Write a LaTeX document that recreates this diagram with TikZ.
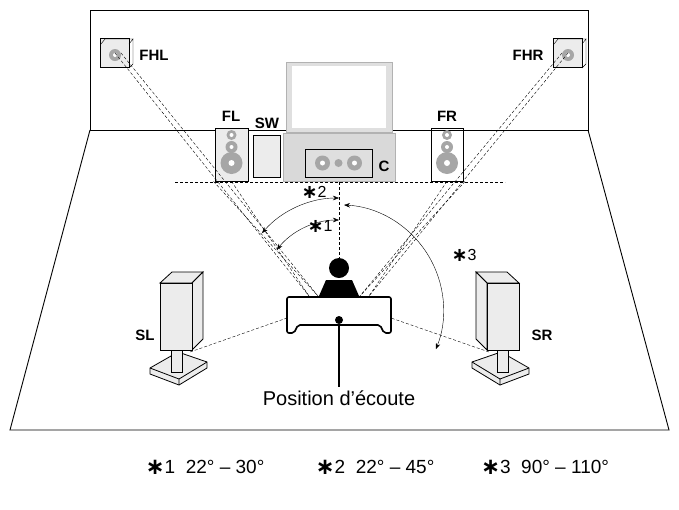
\documentclass[tikz,border=0pt]{standalone}
\usepackage{fontspec}
\setmainfont{Liberation Sans}
\newfontfamily\dvfont{DejaVu Sans}
\newcommand{\myast}{\raisebox{-0.05em}{\scalebox{1.2}{\dvfont\bfseries ∗}}}
\usetikzlibrary{arrows.meta}
\begin{document}
\begin{tikzpicture}[x=1pt,y=-1pt,
  lbl/.style={font=\bfseries\fontsize{15}{16}\selectfont},
  dsh/.style={dashed,thin,dash pattern=on 3pt off 2pt},
  gspk/.style={draw=black,fill=gray!15,line width=0.8pt},
  arc/.style={thin,{Stealth[length=6pt]}-{Stealth[length=6pt]}},
  note/.style={font=\fontsize{16}{18}\selectfont}]
\useasboundingbox (0,0) rectangle (679,509);
% room
\draw[line width=0.9pt] (90,10) rectangle (588,130);
\draw[line width=0.9pt] (90,130) -- (10,430) -- (669,430) -- (588,130);
% TV and stand
\draw[draw=gray!60,fill=gray!25,line width=0.8pt] (286,62) rectangle (392,132);
\fill[white] (292,66) rectangle (386,128);
\draw[gray!60,fill=gray!30,line width=0.8pt] (283,133) rectangle (395,181);
\node[draw=black,fill=gray!25,line width=0.9pt,minimum width=67pt,minimum height=28pt,inner sep=0pt] (C) at (338.5,163) {};
\foreach \dx in {-16,16}{\fill[gray!70] (338.5+\dx,163) circle (7.5); \fill[white] (338.5+\dx,163) circle (2.5);}
\fill[gray!70] (338.5,163) circle (4);
\node[lbl] (Cl) at (384,166) {C};
% FL
\node[gspk,minimum width=33pt,minimum height=53pt,inner sep=0pt] (FL) at (231.5,154.5) {};
\node[gspk,minimum width=27pt,minimum height=42pt,inner sep=0pt] (SW) at (266.5,156) {};
\foreach \cx in {231.5,447}{
 \fill[gray!70] (\cx,135) circle (5); \fill[white] (\cx,135) circle (2);
 \fill[gray!70] (\cx,147) circle (6); \fill[white] (\cx,147) circle (2);
 \fill[gray!70] (\cx,163) circle (11); \fill[white] (\cx,163) circle (3);}
\node[gspk,minimum width=32pt,minimum height=53pt,inner sep=0pt,fill=none] (FR) at (447,154.5) {};
\node[gspk,fill=none,minimum width=33pt,minimum height=53pt,inner sep=0pt] at (231.5,154.5) {};
\node[lbl] (FLl) at (231,116) {FL};
\node[lbl] (SWl) at (267,123) {SW};
\node[lbl] (FRl) at (447,116) {FR};
% FHL FHR
\node[gspk,minimum size=29pt,inner sep=0pt] (FHL) at (115,53) {};
\fill[gray!70] (115,55) circle (6); \fill[white] (115,55) circle (2);
\draw[thin] (101,44) -- (105,39) -- (133,39) -- (129,44) (129,44) -- (133,39) -- (133,64) -- (129,68);
\node[lbl] (FHLl) at (154,55) {FHL};
\node[gspk,minimum size=29pt,inner sep=0pt] (FHR) at (568,53) {};
\fill[gray!70] (568,55) circle (6); \fill[white] (568,55) circle (2);
\draw[thin] (554,44) -- (558,39) -- (586,39) -- (582,44) (582,44) -- (586,39) -- (586,64) -- (582,68);
\node[lbl] (FHRl) at (528,55) {FHR};
% dashed guide lines
\coordinate (hl) at (175,182); \coordinate (hr) at (505,182);
\draw[dsh] (hl) -- (hr);
\coordinate (c1) at (339,182); \coordinate (c2) at (339,258);
\draw[dsh] (c1) -- (c2);
\coordinate (l1) at (309,296); \coordinate (l2) at (318,296);
\coordinate (l3) at (360,296); \coordinate (l4) at (369,296);
\draw[dsh] (FHL.center) -- (l1);
\draw[dsh] (FHL.center) ++(6,0) -- (l2);
\draw[dsh] (FL.south) -- (l1);
\draw[dsh] (FL.south) ++(-18,0) -- (l2);
\draw[dsh] (FR.south) -- (l4);
\draw[dsh] (FR.south) ++(18,0) -- (l3);
\draw[dsh] (FHR.center) -- (l4);
\draw[dsh] (FHR.center) ++(-6,0) -- (l3);
% arcs
\draw[arc] (339,220) arc[start angle=-90,end angle=-141,radius=80];
\draw[arc] (339,198) arc[start angle=-90,end angle=-139,radius=102];
\draw[arc] (344,205) arc[start angle=-87,end angle=22,radius=105];
\node[note] at (320,226) {\myast1};
\node[note] at (314,192) {\myast2};
\node[note] at (464,255) {\myast3};
% listener
\fill (339,268) circle (10);
\fill (326,280) -- (352,280) -- (359,296) -- (319,296) -- cycle;
\draw[line width=1.6pt,fill=white,rounded corners=2pt] (287,297) -- (391,297) -- (391,333) -- (384,333) -- (380,325) -- (298,325) -- (294,333) -- (287,333) -- cycle;
\node[circle,fill,inner sep=0pt,minimum size=8pt] (dot) at (339,320) {};
\node[font=\fontsize{20}{22}\selectfont] (pos) at (339,398) {Position d’écoute};
\draw[line width=1.4pt] (dot) -- (pos.north);
% SL
\draw[gspk,line width=0.8pt] (150,368) -- (178,352) -- (207,362) -- (207,368) -- (179,385) -- (150,374) -- cycle;
\draw[line width=0.8pt] (150,368) -- (179,379) -- (207,362) (179,379) -- (179,385);
\draw[gspk] (171,342) rectangle (182,372);
\draw[gspk] (160,283) -- (172,272) -- (203,272) -- (192,283) -- cycle;
\draw[gspk] (192,283) -- (203,272) -- (203,339) -- (192,350) -- cycle;
\draw[gspk] (160,283) rectangle (192,350);
\node[lbl] (SLl) at (145,335) {SL};
% SR
\begin{scope}[xshift=679pt,x=-1pt]
\draw[gspk,line width=0.8pt] (150,368) -- (178,352) -- (207,362) -- (207,368) -- (179,385) -- (150,374) -- cycle;
\draw[line width=0.8pt] (150,368) -- (179,379) -- (207,362) (179,379) -- (179,385);
\draw[gspk] (171,342) rectangle (182,372);
\draw[gspk] (160,283) -- (172,272) -- (203,272) -- (192,283) -- cycle;
\draw[gspk] (192,283) -- (203,272) -- (203,339) -- (192,350) -- cycle;
\draw[gspk] (160,283) rectangle (192,350);
\end{scope}
\node[lbl] (SRl) at (542,335) {SR};
\coordinate (sl) at (190,352); \coordinate (sr) at (489,352);
\draw[dsh] (sl) -- (287,318);
\draw[dsh] (sr) -- (391,318);
% footnotes
\node[note,font=\fontsize{19}{21}\selectfont] at (205,467) {\myast1\ \ 22° – 30°};
\node[note,font=\fontsize{19}{21}\selectfont] at (375,467) {\myast2\ \ 22° – 45°};
\node[note,font=\fontsize{19}{21}\selectfont] at (545,467) {\myast3\ \ 90° – 110°};
\end{tikzpicture}
\end{document}
